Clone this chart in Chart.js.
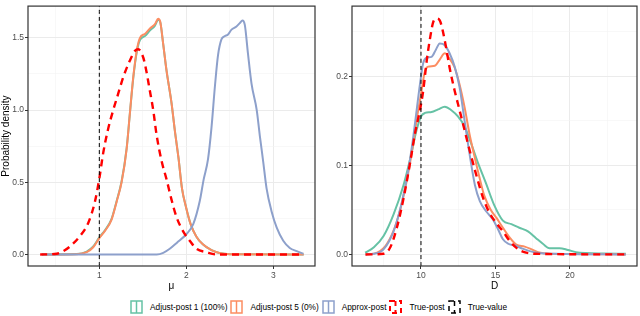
<!DOCTYPE html>
<html>
<head>
<meta charset="utf-8">
<script src="https://cdn.jsdelivr.net/npm/chart.js@4.4.1/dist/chart.umd.min.js"></script>
<style>
body{margin:0;background:#fff;font-family:"Liberation Sans",Arial,sans-serif}
#wrap{position:relative;width:640px;height:316px;overflow:hidden}
#muChart{position:absolute;left:0;top:0}
#dChart{position:absolute;left:320px;top:0}
#legend{position:absolute;left:0;top:300px;width:640px;height:14px;display:flex;justify-content:center;align-items:center;font-size:8.3px;color:#000;white-space:nowrap}
#legend .item{display:flex;align-items:center;margin-right:3px}
#legend canvas{margin-right:7px}
</style>
</head>
<body>
<div id="wrap">
 <canvas id="muChart" width="320" height="292"></canvas>
 <canvas id="dChart" width="320" height="292"></canvas>
 <div id="legend"></div>
</div>
<script>
// legend labels / colours
const seriesNames = ['Adjust-post 1 (100%)','Adjust-post 5 (0%)','Approx-post','True-post','True-value'];
const seriesColors = ['#66C2A5','#FC8D62','#8DA0CB','#FF0000','#000000'];

// ---- left panel: mu ----
const muAdj5X = [0.34,0.74,0.855,0.93,1.0,1.065,1.14,1.20,1.256,1.314,1.352,1.39,1.43,1.467,1.524,1.58,1.64,1.677,1.70,1.735,1.773,1.83,1.87,1.91,1.95,2.0,2.05,2.115,2.19,2.29,2.38,2.5,3.35];
const muAdj5Y = [0,0.002,0.016,0.05,0.113,0.163,0.24,0.367,0.50,0.73,0.98,1.228,1.41,1.50,1.527,1.564,1.595,1.632,1.613,1.455,1.273,1.05,0.85,0.67,0.46,0.32,0.21,0.125,0.07,0.03,0.01,0.002,0];
const muAdj1X = muAdj5X;
const muAdj1Y = [0,0.003,0.02,0.055,0.118,0.168,0.245,0.372,0.505,0.735,0.98,1.22,1.40,1.485,1.512,1.55,1.585,1.625,1.61,1.455,1.273,1.05,0.85,0.67,0.46,0.32,0.21,0.125,0.07,0.03,0.01,0.002,0];
const muApproxX = [0.34,1.66,1.735,1.81,1.89,2.0,2.08,2.155,2.2,2.25,2.29,2.33,2.365,2.404,2.44,2.48,2.52,2.577,2.615,2.646,2.673,2.71,2.75,2.81,2.846,2.885,2.923,2.98,3.04,3.115,3.19,3.27,3.346];
const muApproxY = [0,0,0.011,0.039,0.08,0.14,0.21,0.37,0.52,0.66,0.88,1.17,1.38,1.489,1.511,1.523,1.557,1.579,1.602,1.62,1.59,1.387,1.183,1.0,0.82,0.64,0.458,0.3,0.186,0.095,0.045,0.023,0.005];
const muTrueX = [0.32,0.51,0.587,0.66,0.78,0.874,0.95,1.0,1.046,1.10,1.16,1.218,1.275,1.35,1.41,1.448,1.505,1.54,1.58,1.62,1.658,1.715,1.773,1.83,1.887,1.964,2.04,2.117,2.23,2.35,3.35];
const muTrueY = [0,0.005,0.023,0.054,0.129,0.22,0.367,0.526,0.707,0.866,1.0,1.115,1.228,1.341,1.41,1.421,1.364,1.273,1.137,1.0,0.83,0.65,0.52,0.38,0.26,0.16,0.095,0.039,0.016,0,0];
const muTrueValue = 1;
const muXMajor = [1,2,3], muXMinor = [0.5,1.5,2.5];
const muYMajor = [0,0.5,1,1.5], muYMinor = [0.25,0.75,1.25];

// ---- right panel: D ----
const dAdj1X = [6.25,6.84,7.5,8.16,8.83,9.27,9.71,10.0,10.27,10.71,11.15,11.6,12.04,12.48,12.92,13.36,13.8,14.36,14.9,15.5,16.07,16.6,17.18,17.74,18.18,18.63,19.3,19.86,20.4,21.08,22.2,23.75];
const dAdj1Y = [0.002,0.008,0.021,0.045,0.078,0.107,0.14,0.155,0.159,0.16,0.163,0.166,0.162,0.155,0.144,0.125,0.104,0.08,0.056,0.038,0.034,0.030,0.026,0.018,0.012,0.007,0.007,0.005,0.0026,0.0015,0.001,0.0007];
const dAdj5X = [6.28,7.06,7.72,8.38,8.94,9.38,9.71,10.0,10.27,10.49,10.93,11.26,11.6,11.92,12.26,12.59,12.92,13.25,13.58,13.92,14.25,14.69,15.07,15.5,15.96,16.4,16.96,17.4,17.85,18.63,19.97,23.75];
const dAdj5Y = [0,0.002,0.012,0.037,0.074,0.114,0.151,0.18,0.206,0.211,0.212,0.219,0.226,0.22,0.21,0.191,0.166,0.136,0.111,0.087,0.066,0.05,0.041,0.030,0.019,0.011,0.0088,0.006,0.0026,0.0007,0.0004,0];
const dApproxX = [6.28,6.84,7.5,8.16,8.72,9.16,9.49,9.71,9.93,10.15,10.38,10.71,11.0,11.26,11.6,11.92,12.26,12.59,12.92,13.25,13.62,13.95,14.4,14.84,15.18,15.5,15.85,16.3,16.74,17.3,17.96,19.07,23.75];
const dApproxY = [0,0.0007,0.006,0.026,0.059,0.096,0.133,0.162,0.191,0.215,0.221,0.222,0.23,0.237,0.235,0.226,0.211,0.188,0.151,0.114,0.078,0.06,0.048,0.039,0.028,0.017,0.012,0.010,0.007,0.0037,0.0015,0.0007,0];
const dTrueX = [6.28,7.5,7.94,8.38,8.83,9.27,9.6,9.93,10.15,10.38,10.6,10.82,11.04,11.26,11.48,11.7,11.92,12.26,12.59,12.92,13.25,13.7,14.18,14.62,15.07,15.5,15.96,16.6,17.07,17.74,23.75];
const dTrueY = [0,0.0007,0.008,0.03,0.063,0.103,0.136,0.162,0.184,0.217,0.242,0.261,0.265,0.263,0.25,0.231,0.21,0.184,0.162,0.14,0.118,0.09,0.063,0.046,0.035,0.026,0.015,0.005,0.002,0.0007,0];
const dTrueValue = 10;
const dXMajor = [10,15,20], dXMinor = [7.5,12.5,17.5,22.5];
const dYMajor = [0,0.1,0.2], dYMinor = [0.05,0.15,0.25];

const pts = (xs,ys) => xs.map((x,i)=>({x,y:ys[i]}));
const near = (list,v) => list.some(m=>Math.abs(m-v)<1e-9);

// panel frame like theme_bw
const boxPlugin = {id:'box',afterDraw(c){
  const {ctx,chartArea:a}=c;
  ctx.save();ctx.strokeStyle='#333';ctx.lineWidth=1.2;
  ctx.strokeRect(a.left,a.top,a.right-a.left,a.bottom-a.top);
  ctx.restore();
}};

function gridOf(major){
  return {
    color:c=>near(major,c.tick.value)?'#ebebeb':'#f4f4f4',
    lineWidth:c=>near(major,c.tick.value)?1:0.6,
    tickColor:c=>near(major,c.tick.value)?'#333':'rgba(0,0,0,0)',
    tickLength:3
  };
}

function panel(id,cfg){
  const line=(data,i,extra)=>Object.assign({label:seriesNames[i],data,borderColor:seriesColors[i],
    borderWidth:2,pointRadius:0,fill:false,cubicInterpolationMode:'monotone',order:5-i},extra||{});
  new Chart(document.getElementById(id),{
    type:'line',
    data:{datasets:[
      line(pts(cfg.adj1X,cfg.adj1Y),0),
      line(pts(cfg.adj5X,cfg.adj5Y),1),
      line(pts(cfg.approxX,cfg.approxY),2),
      line(pts(cfg.trueX,cfg.trueY),3,{borderWidth:2.4,borderDash:[7,5]}),
      line([{x:cfg.trueValue,y:cfg.yMin},{x:cfg.trueValue,y:cfg.yMax}],4,{borderWidth:1,borderDash:[4,3]})
    ]},
    options:{
      responsive:false,animation:false,devicePixelRatio:1,
      layout:{padding:{left:0,right:cfg.padRight,top:1,bottom:0}},
      plugins:{legend:{display:false},tooltip:{enabled:false}},
      scales:{
        x:{type:'linear',min:cfg.xMin,max:cfg.xMax,
          afterBuildTicks:ax=>{ax.ticks=[...cfg.xMajor,...cfg.xMinor].sort((a,b)=>a-b).map(v=>({value:v}));},
          ticks:{autoSkip:false,maxRotation:0,padding:2,color:'#4d4d4d',font:{size:8.5},
            callback:v=>near(cfg.xMajor,v)?String(v):''},
          grid:gridOf(cfg.xMajor),border:{display:false},
          title:{display:true,text:cfg.xTitle,color:'#000',font:{size:10},padding:{top:0,bottom:0}},
          afterFit:ax=>{ax.height=26;}},
        y:{type:'linear',min:cfg.yMin,max:cfg.yMax,
          afterBuildTicks:ax=>{ax.ticks=[...cfg.yMajor,...cfg.yMinor].sort((a,b)=>a-b).map(v=>({value:v}));},
          ticks:{autoSkip:false,padding:1,color:'#4d4d4d',font:{size:8.5},
            callback:v=>near(cfg.yMajor,v)?v.toFixed(1):''},
          grid:gridOf(cfg.yMajor),border:{display:false},
          title:{display:!!cfg.yTitle,text:cfg.yTitle,color:'#000',font:{size:10},padding:{top:0,bottom:0}},
          afterFit:ax=>{ax.width=cfg.yWidth;}}
      }
    },
    plugins:[boxPlugin]
  });
}

panel('muChart',{adj1X:muAdj1X,adj1Y:muAdj1Y,adj5X:muAdj5X,adj5Y:muAdj5Y,approxX:muApproxX,approxY:muApproxY,
  trueX:muTrueX,trueY:muTrueY,trueValue:muTrueValue,xMajor:muXMajor,xMinor:muXMinor,yMajor:muYMajor,yMinor:muYMinor,
  xMin:0.18,xMax:3.48,yMin:-0.08,yMax:1.72,xTitle:'μ',yTitle:'Probability density',yWidth:28,padRight:5});
panel('dChart',{adj1X:dAdj1X,adj1Y:dAdj1Y,adj5X:dAdj5X,adj5Y:dAdj5Y,approxX:dApproxX,approxY:dApproxY,
  trueX:dTrueX,trueY:dTrueY,trueValue:dTrueValue,xMajor:dXMajor,xMinor:dXMinor,yMajor:dYMajor,yMinor:dYMinor,
  xMin:5.37,xMax:24.5,yMin:-0.013,yMax:0.279,xTitle:'D',yTitle:'',yWidth:32,padRight:3});

// shared legend with density-style keys
const legend=document.getElementById('legend');
seriesNames.forEach((name,i)=>{
  const item=document.createElement('div');item.className='item';
  const cv=document.createElement('canvas');cv.width=13;cv.height=14;
  const g=cv.getContext('2d');g.strokeStyle=seriesColors[i];
  g.lineWidth=i===3?2:1.5;
  if(i>=3)g.setLineDash([5,4]);
  g.strokeRect(1,1,11,12);
  g.beginPath();g.moveTo(6.5,1);g.lineTo(6.5,13);g.stroke();
  const sp=document.createElement('span');sp.textContent=name;
  item.appendChild(cv);item.appendChild(sp);legend.appendChild(item);
});
</script>
</body>
</html>
